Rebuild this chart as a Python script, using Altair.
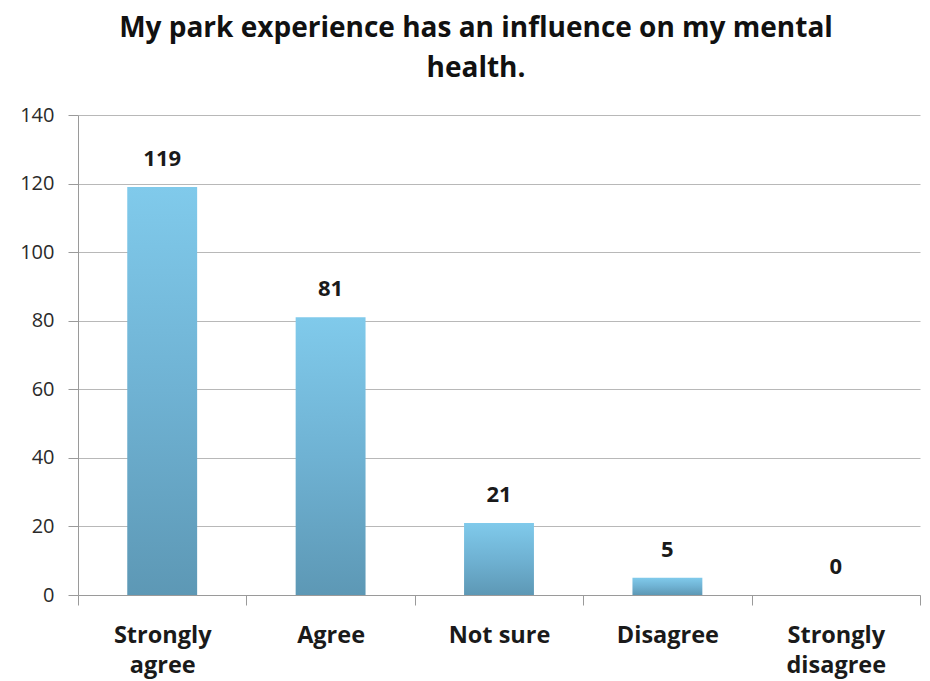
import altair as alt
import pandas as pd

categories = ["Strongly agree", "Agree", "Not sure", "Disagree", "Strongly disagree"]
counts = [119, 81, 21, 5, 0]
y_ticks = [0, 20, 40, 60, 80, 100, 120, 140]
title_text = ["My park experience has an influence on my mental", "health."]

df = pd.DataFrame({"category": categories, "count": counts})

FONT = "Open Sans"

x_enc = alt.X(
    "category:N",
    sort=categories,
    scale=alt.Scale(paddingInner=0, paddingOuter=0),
    axis=alt.Axis(
        title=None,
        labelAngle=0,
        labelFont=FONT,
        labelFontSize=23.5,
        labelFontWeight="bold",
        labelColor="#1a1a1a",
        labelPadding=18,
        labelLineHeight=30,
        labelExpr="indexof(datum.label,'Strongly')==0 ? split(datum.label,' ') : datum.label",
        tickBand="extent",
        tickSize=10,
        tickColor="#9a9a9a",
        domainColor="#9a9a9a",
        grid=False,
    ),
)

y_enc = alt.Y(
    "count:Q",
    scale=alt.Scale(domain=[0, 140]),
    axis=alt.Axis(
        title=None,
        values=y_ticks,
        labelFont=FONT,
        labelFontSize=20,
        labelColor="#2a2a2a",
        labelPadding=14,
        tickSize=10,
        tickColor="#9a9a9a",
        domainColor="#9a9a9a",
        gridColor="#b8b8b8",
        gridWidth=1,
    ),
)

bars = alt.Chart(df).mark_bar(
    width=alt.RelativeBandSize(0.415),
    color=alt.Gradient(
        gradient="linear",
        x1=0, x2=0, y1=0, y2=1,
        stops=[
            alt.GradientStop(color="#80CAEB", offset=0),
            alt.GradientStop(color="#6FB2D3", offset=0.5),
            alt.GradientStop(color="#5D98B5", offset=1),
        ],
    ),
).encode(x=x_enc, y=y_enc)

labels = alt.Chart(df).mark_text(
    baseline="bottom", dy=-16, font=FONT, fontSize=22, fontWeight="bold", color="#1a1a1a"
).encode(x=alt.X("category:N", sort=categories), y="count:Q", text="count:Q")

chart = (
    alt.layer(bars, labels)
    .properties(
        width=842,
        height=480,
        autosize=alt.AutoSizeParams(type="none"),
        padding={"left": 70, "top": 107, "right": 2, "bottom": 84},
        title=alt.Title(
            title_text,
            font=FONT,
            fontSize=28,
            fontWeight="bold",
            color="#111111",
            anchor="middle",
            dx=-23,
            offset=22,
            lineHeight=40,
        ),
    )
    .configure_view(stroke=None)
)

chart.save("out.html", embed_options={"renderer": "svg", "actions": False})
